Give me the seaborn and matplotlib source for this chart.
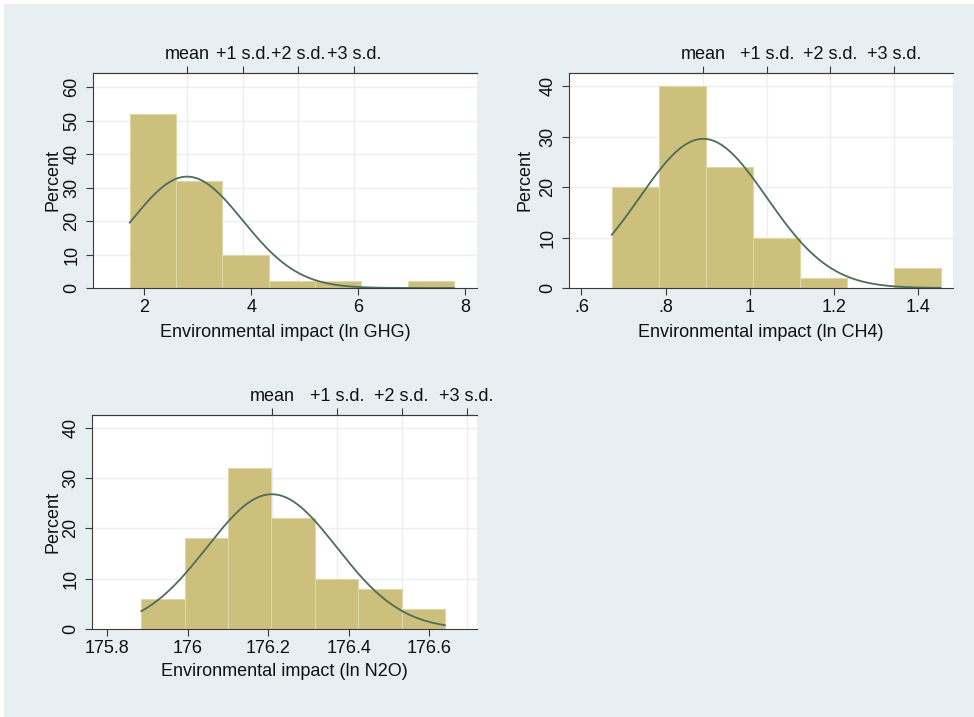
import numpy as np
import pandas as pd
import matplotlib
matplotlib.use("Agg")
import matplotlib.pyplot as plt
from matplotlib.patches import Rectangle
import seaborn as sns

# Histogram bin edges and bar heights (percent of observations)
ghg_edges = [1.725, 2.592, 3.459, 4.326, 5.193, 6.060, 6.927, 7.794]
ghg_pct = [52, 32, 10, 2, 2, 0, 2]
ghg_mean, ghg_sd = 2.80, 1.04

ch4_edges = [0.672, 0.784, 0.895, 1.007, 1.118, 1.230, 1.341, 1.453]
ch4_pct = [20, 40, 24, 10, 2, 0, 4]
ch4_mean, ch4_sd = 0.889, 0.151

n2o_edges = [175.885, 175.993, 176.100, 176.208, 176.316, 176.424, 176.531, 176.639]
n2o_pct = [6, 18, 32, 22, 10, 8, 4]
n2o_mean, n2o_sd = 176.209, 0.161

# Axis tick values and labels
ghg_xticks = [2, 4, 6, 8]
ghg_xlabels = ["2", "4", "6", "8"]
ghg_yticks = [0, 10, 20, 30, 40, 50, 60]

ch4_xticks = [0.6, 0.8, 1.0, 1.2, 1.4]
ch4_xlabels = [".6", ".8", "1", "1.2", "1.4"]
ch4_yticks = [0, 10, 20, 30, 40]

n2o_xticks = [175.8, 176.0, 176.2, 176.4, 176.6]
n2o_xlabels = ["175.8", "176", "176.2", "176.4", "176.6"]
n2o_yticks = [0, 10, 20, 30, 40]

sd_labels = ["mean", "+1 s.d.", "+2 s.d.", "+3 s.d."]

BG = "#e8eff3"
BAR = "#cdbf7c"
BAR_EDGE = "#e0d7a8"
CURVE = "#4d6d5b"
AXIS = "#3a3a3a"
GRID = "#eceff1"
TEXT = "#111111"
FS = 13

sns.set_theme(style="white")
plt.rcParams["font.family"] = ["Liberation Sans", "DejaVu Sans"]

W, H = 974, 717
fig = plt.figure(figsize=(W / 100, H / 100), dpi=100)
fig.patch.set_facecolor("white")
fig.add_artist(Rectangle((4 / W, 0), 1, (H - 4) / H, transform=fig.transFigure,
                         facecolor=BG, edgecolor="none", zorder=-1))


def px_rect(left, right, top, bottom):
    return [left / W, 1 - bottom / H, (right - left) / W, (bottom - top) / H]


def panel(rect, edges, pct, mean, sd, xlim, ylim, xticks, xlabels, yticks,
          xlabel, ylab_x, xlab_y):
    ax = fig.add_axes(rect)
    ax.set_facecolor("white")
    edge_arr = np.asarray(edges, dtype=float)
    bins_df = pd.DataFrame({
        "center": (edge_arr[:-1] + edge_arr[1:]) / 2,
        "pct": [float(p) for p in pct],
    })
    width = edge_arr[1] - edge_arr[0]

    sd_pos = [mean + k * sd for k in range(4)]
    # grid lines behind the bars
    for y in yticks[1:]:
        ax.axhline(y, color=GRID, lw=1.0, zorder=0)
    for x in sd_pos:
        ax.axvline(x, color=GRID, lw=1.0, zorder=0)

    sns.histplot(data=bins_df, x="center", weights="pct", bins=list(edges),
                 stat="count", ax=ax, color=BAR, alpha=1.0,
                 edgecolor=BAR_EDGE, linewidth=0.8, zorder=2)

    # fitted normal density, scaled to percent per bin
    xs = np.linspace(edge_arr[0], edge_arr[-1], 300)
    ys = 100 * width * np.exp(-0.5 * ((xs - mean) / sd) ** 2) / (sd * np.sqrt(2 * np.pi))
    sns.lineplot(x=xs, y=ys, ax=ax, color=CURVE, lw=1.3, zorder=3)

    ax.set_xlim(*xlim)
    ax.set_ylim(*ylim)
    ax.set_xticks(xticks)
    ax.set_xticklabels(xlabels)
    ax.set_yticks(yticks)
    ax.set_yticklabels([str(v) for v in yticks])
    for lab in ax.get_yticklabels():
        lab.set_rotation(90)
        lab.set_va("center")
    ax.tick_params(axis="both", direction="out", length=5, width=0.8,
                   color=AXIS, labelsize=FS, labelcolor=TEXT, pad=3,
                   bottom=True, left=True)
    ax.tick_params(axis="y", pad=4)

    for side in ("left", "bottom", "top"):
        ax.spines[side].set_visible(True)
        ax.spines[side].set_color(AXIS)
        ax.spines[side].set_linewidth(0.8)
    ax.spines["right"].set_visible(False)

    ax.set_xlabel(xlabel, fontsize=FS, color=TEXT)
    ax.set_ylabel("Percent", fontsize=FS, color=TEXT)
    ax.xaxis.set_label_coords(0.5, xlab_y)
    ax.xaxis.label.set_va("center")
    ax.yaxis.set_label_coords(ylab_x, 0.5)
    ax.yaxis.label.set_va("center")

    top = ax.secondary_xaxis("top")
    top.set_xticks(sd_pos)
    top.set_xticklabels(sd_labels)
    top.tick_params(direction="out", length=5, width=0.8, color=AXIS,
                    labelsize=FS, labelcolor=TEXT, pad=2)
    top.spines["top"].set_color(AXIS)
    top.spines["top"].set_linewidth(0.8)
    return ax


panel(px_rect(93, 477, 73, 288), ghg_edges, ghg_pct, ghg_mean, ghg_sd,
      (1.04, 8.22), (0, 64.2), ghg_xticks, ghg_xlabels, ghg_yticks,
      "Environmental impact (ln GHG)", -0.104, -0.205)

panel(px_rect(569, 953, 73, 288), ch4_edges, ch4_pct, ch4_mean, ch4_sd,
      (0.5705, 1.482), (0, 42.65), ch4_xticks, ch4_xlabels, ch4_yticks,
      "Environmental impact (ln CH4)", -0.115, -0.205)

panel(px_rect(92, 477, 415, 629), n2o_edges, n2o_pct, n2o_mean, n2o_sd,
      (175.763, 176.718), (0, 42.5), n2o_xticks, n2o_xlabels, n2o_yticks,
      "Environmental impact (ln N2O)", -0.101, -0.2)

fig.savefig("out.png", dpi=100, facecolor=fig.get_facecolor())
